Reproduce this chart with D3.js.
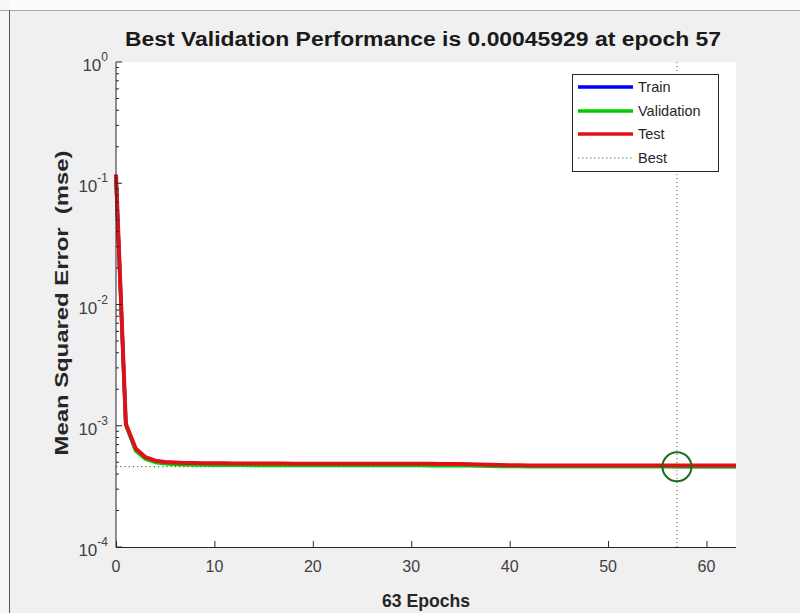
<!DOCTYPE html>
<html><head><meta charset="utf-8">
<script src="https://cdn.jsdelivr.net/npm/d3@7"></script>
<style>html,body{margin:0;padding:0;background:#f0f0f0;}svg{display:block;}</style>
</head><body>
<svg id="chart" width="800" height="613"></svg>
<script>
const epochs = d3.range(0, 64);
const trainVals = [0.112,0.00102,0.00063,0.00054,0.000508,0.000496,0.00049,0.000487,0.000485,0.000484,
0.000483,0.000483,0.000482,0.000482,0.000482,0.000481,0.000481,0.000481,0.00048,0.00048,
0.00048,0.00048,0.000479,0.000479,0.000479,0.000479,0.000479,0.000478,0.000478,0.000478,
0.000478,0.000478,0.000477,0.000477,0.000477,0.000476,0.000475,0.000474,0.000471,0.000468,
0.000466,0.000466,0.000465,0.000465,0.000465,0.000464,0.000464,0.000464,0.000464,0.000464,
0.000464,0.000463,0.000463,0.000463,0.000463,0.000463,0.000463,0.000462,0.000462,0.000462,
0.000462,0.000462,0.000462,0.000462];
const validationVals = [0.110,0.00101,0.00062,0.00053,0.000498,0.000485,0.00048,0.000477,0.000475,0.000474,
0.000473,0.000473,0.000472,0.000472,0.000471,0.000471,0.000471,0.000471,0.000471,0.00047,
0.00047,0.00047,0.00047,0.00047,0.00047,0.000469,0.000469,0.000469,0.000469,0.000469,
0.000469,0.000469,0.000468,0.000468,0.000468,0.000468,0.000467,0.000466,0.000464,0.000462,
0.000461,0.000461,0.00046,0.00046,0.00046,0.00046,0.00046,0.000459,0.000459,0.000459,
0.000459,0.000459,0.000459,0.000459,0.000459,0.000459,0.000459,0.00045929,0.000459,0.000459,
0.000459,0.000459,0.000459,0.000459];
const testVals = [0.118,0.00104,0.00065,0.00055,0.000515,0.000502,0.000497,0.000494,0.000492,0.000491,
0.00049,0.00049,0.000489,0.000489,0.000489,0.000488,0.000488,0.000488,0.000487,0.000487,
0.000487,0.000487,0.000487,0.000486,0.000486,0.000486,0.000486,0.000486,0.000485,0.000485,
0.000485,0.000485,0.000485,0.000484,0.000484,0.000483,0.000482,0.00048,0.000477,0.000474,
0.000472,0.000472,0.000471,0.000471,0.000471,0.000471,0.000471,0.00047,0.00047,0.00047,
0.00047,0.00047,0.00047,0.00047,0.00047,0.00047,0.00047,0.00047,0.000469,0.000469,
0.000469,0.000469,0.000469,0.000469];
const bestEpoch = 57;
const bestValue = 0.00045929;
const xTicks = [0,10,20,30,40,50,60];
const yTicks = [-4,-3,-2,-1,0];
const seriesNames = ["Train","Validation","Test"];
const seriesColors = ["#0000ff","#00cc00","#ff0000"];
const titleText = "Best Validation Performance is 0.00045929 at epoch 57";
const xLabelText = "63 Epochs";
const yLabelText = "Mean Squared Error\u00a0\u00a0(mse)";

const svg = d3.select("#chart");
const W = 800, H = 613;
const L = 116, R = 736, T = 62, B = 547;
const x = d3.scaleLinear().domain([0,63]).range([L,R]);
const y = d3.scaleLog().domain([1e-4,1]).range([B,T]);
const font = "'Liberation Sans', Arial, sans-serif";

// frame
svg.append("rect").attr("x",0).attr("y",0).attr("width",W).attr("height",H).attr("fill","#f0f0f0");
svg.append("rect").attr("x",0).attr("y",0).attr("width",W).attr("height",10).attr("fill","#fbfbfb");
svg.append("rect").attr("x",0).attr("y",0).attr("width",9).attr("height",H).attr("fill","#f6f6f6");
svg.append("line").attr("x1",0).attr("x2",W).attr("y1",10.5).attr("y2",10.5).attr("stroke","#a8a8a8");
svg.append("line").attr("x1",9.5).attr("x2",9.5).attr("y1",10).attr("y2",H).attr("stroke","#555");

// plot bg
svg.append("rect").attr("x",L).attr("y",T).attr("width",R-L).attr("height",B-T).attr("fill","#fff");

const g = svg.append("g");
// best lines
g.append("line").attr("x1",x(bestEpoch)).attr("x2",x(bestEpoch)).attr("y1",T).attr("y2",B)
  .attr("stroke","#2f7f2f").attr("stroke-width",1).attr("stroke-dasharray","1,3");
g.append("line").attr("x1",x(0)).attr("x2",x(bestEpoch)).attr("y1",y(bestValue)).attr("y2",y(bestValue))
  .attr("stroke","#2f7f2f").attr("stroke-width",1.2).attr("stroke-dasharray","1.2,3");

const line = d3.line().x((d,i)=>x(epochs[i])).y(d=>y(d));
[trainVals, validationVals].forEach((vals,k)=>{
  g.append("path").datum(vals).attr("d",line).attr("fill","none")
    .attr("stroke",seriesColors[k]).attr("stroke-width",3.5).attr("stroke-linejoin","round");
});
g.append("path").datum(testVals).attr("d",line).attr("fill","none")
  .attr("stroke","#e0101a").attr("stroke-width",4).attr("stroke-linejoin","round");

g.append("circle").attr("cx",x(bestEpoch)).attr("cy",y(bestValue)).attr("r",14.5)
  .attr("fill","none").attr("stroke","#1d6b1d").attr("stroke-width",2);

// axes lines
svg.append("line").attr("x1",L).attr("x2",L).attr("y1",T).attr("y2",B+0.5).attr("stroke","#262626");
svg.append("line").attr("x1",L).attr("x2",R).attr("y1",B+0.5).attr("y2",B+0.5).attr("stroke","#262626");

// x ticks
xTicks.forEach(t=>{
  svg.append("line").attr("x1",x(t)+0.5).attr("x2",x(t)+0.5).attr("y1",B).attr("y2",B-6).attr("stroke","#262626");
  svg.append("text").attr("x",x(t)).attr("y",B+25).attr("text-anchor","middle")
    .attr("font-family",font).attr("font-size",16).attr("fill","#404040").text(t);
});
// y ticks
yTicks.forEach(e=>{
  const yy = y(Math.pow(10,e));
  svg.append("line").attr("x1",L).attr("x2",L+6).attr("y1",yy).attr("y2",yy).attr("stroke","#262626");
  if (e<0) for (let m=2;m<=9;m++){
    const ym = y(m*Math.pow(10,e));
    svg.append("line").attr("x1",L).attr("x2",L+3).attr("y1",ym).attr("y2",ym).attr("stroke","#262626");
  }
  const t = svg.append("text").attr("x",L-8).attr("y",yy+9).attr("text-anchor","end")
    .attr("font-family",font).attr("font-size",17).attr("fill","#404040");
  t.append("tspan").text("10");
  t.append("tspan").attr("dy",-10).attr("font-size",12).text(String(e));
});

// title and labels
svg.append("text").attr("x",(L+R)/2 - 3).attr("y",46).attr("text-anchor","middle")
  .attr("font-family",font).attr("font-weight","bold").attr("font-size",20).attr("fill","#1a1a1a")
  .attr("textLength",596).attr("lengthAdjust","spacingAndGlyphs").text(titleText);
svg.append("text").attr("x",(L+R)/2).attr("y",607).attr("text-anchor","middle")
  .attr("font-family",font).attr("font-weight","bold").attr("font-size",19).attr("fill","#262626")
  .attr("textLength",88).attr("lengthAdjust","spacingAndGlyphs").text(xLabelText);
svg.append("text").attr("transform",`translate(68,303) rotate(-90)`).attr("text-anchor","middle")
  .attr("font-family",font).attr("font-weight","bold").attr("font-size",19).attr("fill","#262626")
  .attr("textLength",305).attr("lengthAdjust","spacingAndGlyphs").text(yLabelText);

// legend
const lg = svg.append("g");
lg.append("rect").attr("x",572.5).attr("y",74.5).attr("width",146).attr("height",97)
  .attr("fill","#fff").attr("stroke","#262626");
const rows = [87,111,134,158];
const legendItems = seriesNames.map((n,i)=>({name:n,color:i===2?"#e0101a":seriesColors[i],dash:null,w:3.5}))
  .concat([{name:"Best",color:"#6a8a6a",dash:"1.5,2.5",w:1}]);
legendItems.forEach((it,i)=>{
  lg.append("line").attr("x1",578).attr("x2",633).attr("y1",rows[i]).attr("y2",rows[i])
    .attr("stroke",it.color).attr("stroke-width",it.w).attr("stroke-dasharray",it.dash);
  lg.append("text").attr("x",638).attr("y",rows[i]+5).attr("font-family",font).attr("font-size",14.5)
    .attr("fill","#262626").text(it.name);
});
</script>
</body></html>
